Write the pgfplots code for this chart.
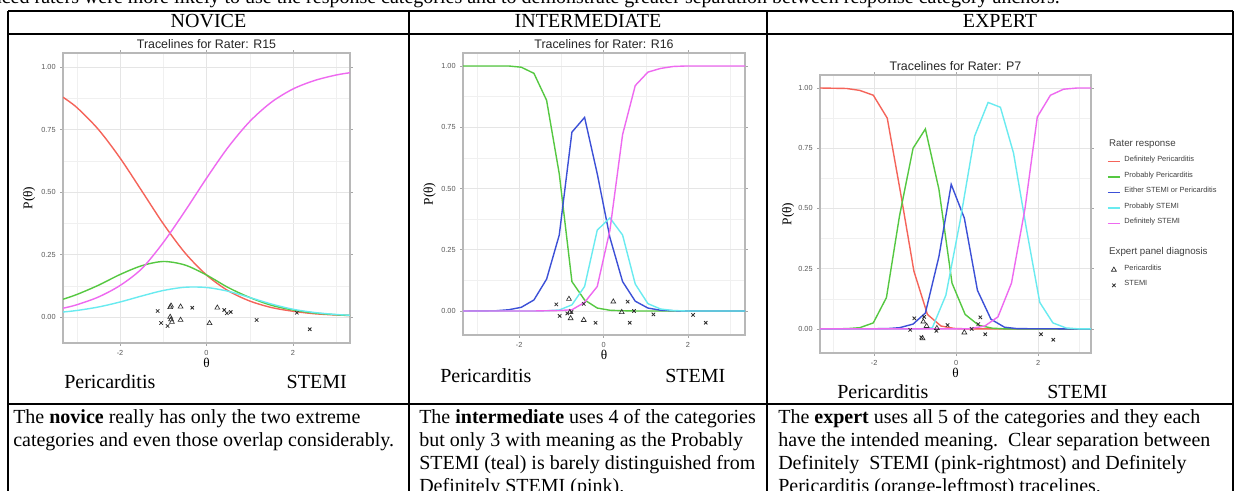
\documentclass[border=0pt]{standalone}
\usepackage{pgfplots}
\pgfplotsset{compat=1.18}
\usepackage{fontspec}
\setmainfont{Liberation Serif}
\newfontfamily\plotfont{Liberation Sans}

\definecolor{cRed}{RGB}{245,100,90}
\definecolor{cGreen}{RGB}{85,200,65}
\definecolor{cBlue}{RGB}{60,80,215}
\definecolor{cCyan}{RGB}{105,235,240}
\definecolor{cPink}{RGB}{238,105,240}
\definecolor{ptgray}{RGB}{45,45,45}

% novice rater R15 (smooth tracelines)
\pgfplotstableread{
theta red   green cyan  pink
-3.32 0.879 0.071 0.020 0.035
-3.0  0.838 0.090 0.026 0.049
-2.5  0.750 0.127 0.040 0.080
-2.0  0.636 0.170 0.060 0.126
-1.5  0.505 0.205 0.084 0.193
-1.0  0.373 0.222 0.106 0.298
-0.5  0.257 0.208 0.119 0.423
0.0   0.168 0.168 0.118 0.555
0.5   0.105 0.118 0.103 0.679
1.0   0.064 0.078 0.078 0.782
1.5   0.038 0.047 0.052 0.859
2.0   0.023 0.028 0.031 0.912
2.5   0.013 0.016 0.018 0.946
3.0   0.008 0.009 0.010 0.968
3.32  0.006 0.006 0.007 0.977
}\novice

% intermediate rater R16
\pgfplotstableread{
theta green blue  cyan  pink
-3.33 1.000 0.000 0.000 0.000
-2.55 1.000 0.001 0.000 0.000
-2.25 1.000 0.005 0.000 0.000
-1.95 0.995 0.015 0.000 0.000
-1.65 0.970 0.045 0.000 0.000
-1.35 0.860 0.130 0.001 0.001
-1.05 0.560 0.310 0.004 0.002
-0.75 0.120 0.730 0.025 0.005
-0.45 0.045 0.790 0.100 0.035
-0.15 0.012 0.560 0.330 0.100
0.15  0.003 0.300 0.380 0.330
0.45  0.001 0.120 0.310 0.720
0.75  0.000 0.040 0.110 0.920
1.05  0.000 0.012 0.030 0.975
1.35  0.000 0.003 0.008 0.990
1.65  0.000 0.001 0.002 0.998
1.95  0.000 0.000 0.000 1.000
3.35  0.000 0.000 0.000 1.000
}\intermediate

\pgfplotsset{
  trace/.style={
    scale only axis, anchor=north west,
    xtick={-2,0,2}, xticklabels={-2,0,2},
    ytick={0,0.25,0.5,0.75,1}, yticklabels={0.00,0.25,0.50,0.75,1.00},
    minor xtick={-3,-1,1,3}, minor ytick={0.125,0.375,0.625,0.875},
    grid=both,
    major grid style={black!10, line width=0.5pt},
    minor grid style={black!6, line width=0.3pt},
    axis line style={black!28, line width=0.9pt},
    tick align=outside, major tick length=2pt, minor tick length=0pt,
    every tick/.style={black!35, line width=0.5pt},
    tick label style={font=\plotfont\fontsize{5.5}{6}\selectfont, text=black!65},
    xlabel={θ}, ylabel={P(θ)},
    label style={font=\plotfont\fontsize{7}{8}\selectfont, text=black!75},
    every axis x label/.style={at={(axis description cs:0.5,-0.07)}, anchor=center},
    every axis y label/.style={at={(axis description cs:-0.118,0.5)}, anchor=center, rotate=90},
    every axis title/.style={at={(axis description cs:0.5,1.032)}, anchor=center,
      font=\plotfont\fontsize{9.3}{10}\selectfont, text=black!85},
  },
  curve/.style={line width=1.05pt, no marks},
  tri/.style={only marks, mark=triangle, mark size=2.1pt, mark options={ptgray, line width=0.5pt}},
  crs/.style={only marks, mark=x, mark size=1.8pt, mark options={ptgray, line width=0.6pt}},
  markleg/.style={legend image code/.code={\draw[##1] plot coordinates {(4.5pt,0pt)};}},
}

\begin{document}
\begin{tikzpicture}
\path[use as bounding box] (0pt,0pt) rectangle (927.75pt,-368.25pt);
\clip (0pt,0pt) rectangle (927.75pt,-368.25pt);
\fill[white] (0pt,0pt) rectangle (927.75pt,-368.25pt);

% NOVICE
\begin{axis}[trace, at={(47.25pt,-39.75pt)}, width=215.25pt, height=217.5pt,
  xmin=-3.32, xmax=3.32, ymin=-0.104, ymax=1.056,
  title={Tracelines for Rater: R15}]
\addplot[curve, cRed, smooth] table[x=theta, y=red] {\novice};
\addplot[curve, cGreen, smooth] table[x=theta, y=green] {\novice};
\addplot[curve, cCyan, smooth] table[x=theta, y=cyan] {\novice};
\addplot[curve, cPink, smooth] table[x=theta, y=pink] {\novice};
\addplot[tri] coordinates {(-0.84,0.039) (-0.82,0.045) (-0.84,0.0) (-0.82,-0.01)
  (-0.80,-0.02) (-0.60,0.041) (-0.60,-0.012) (0.07,-0.025) (0.25,0.037)};
\addplot[crs] coordinates {(-1.13,0.024) (-1.05,-0.024) (-0.90,-0.036) (-0.33,0.037)
  (0.41,0.028) (0.47,0.015) (0.56,0.02) (1.16,-0.012) (2.09,0.017) (2.39,-0.049)};
\end{axis}

% INTERMEDIATE
\begin{axis}[trace, at={(347.25pt,-39.75pt)}, width=211.5pt, height=211.5pt,
  xmin=-3.33, xmax=3.35, ymin=-0.098, ymax=1.053,
  title={Tracelines for Rater: R16}]
\addplot[curve, cGreen] table[x=theta, y=green] {\intermediate};
\addplot[curve, cBlue] table[x=theta, y=blue] {\intermediate};
\addplot[curve, cCyan] table[x=theta, y=cyan] {\intermediate};
\addplot[curve, cPink] table[x=theta, y=pink] {\intermediate};
\addplot[tri] coordinates {(-0.82,0.049) (-0.80,-0.005) (-0.78,-0.03) (-0.47,-0.037)
  (0.23,0.038) (0.43,-0.005)};
\addplot[crs] coordinates {(-1.12,0.027) (-1.04,-0.02) (-0.86,-0.01) (-0.76,-0.004)
  (-0.47,0.029) (-0.19,-0.048) (0.57,0.038) (0.62,-0.048) (0.72,0.0) (1.18,-0.014)
  (2.12,-0.016) (2.42,-0.048)};
\end{axis}

% EXPERT
\begin{axis}[trace, at={(615pt,-56.25pt)}, width=203.25pt, height=208.5pt,
  xmin=-3.32, xmax=3.29, ymin=-0.10, ymax=1.054,
  title={Tracelines for Rater: P7},
  legend cell align=left,
  legend image code/.code={\draw[#1] (0pt,0pt) -- (9pt,0pt);},
  legend style={at={(axis description cs:1.059,0.773)}, anchor=north west,
    draw=none, fill=none, inner sep=0pt, row sep=0pt,
    font=\plotfont\fontsize{5.6}{6}\selectfont, text=black!75,
    nodes={inner sep=0pt, text height=6pt, text depth=5.6pt},
    /tikz/every odd column/.append style={column sep=3pt}}]
\addplot[curve, cRed, forget plot] coordinates {(-3.32,1.0) (-2.67,0.998) (-2.35,0.99)
  (-2.02,0.97) (-1.68,0.875) (-1.35,0.56) (-1.03,0.24) (-0.70,0.06) (-0.37,0.012)
  (-0.05,0.002) (0.3,0) (3.29,0)};
\addplot[curve, cGreen, forget plot] coordinates {(-3.32,0) (-2.67,0.001) (-2.35,0.005)
  (-2.02,0.025) (-1.70,0.13) (-1.38,0.47) (-1.05,0.75) (-0.75,0.83) (-0.42,0.58)
  (-0.10,0.19) (0.22,0.06) (0.55,0.015) (0.88,0.003) (1.2,0) (3.29,0)};
\addplot[curve, cBlue, forget plot] coordinates {(-3.32,0) (-1.7,0.001) (-1.38,0.005)
  (-1.05,0.02) (-0.75,0.066) (-0.42,0.30) (-0.12,0.60) (0.20,0.46) (0.52,0.16)
  (0.85,0.04) (1.18,0.007) (1.5,0.001) (3.29,0)};
\addplot[curve, cCyan, forget plot] coordinates {(-3.32,0) (-0.9,0) (-0.58,0.005)
  (-0.25,0.14) (0.10,0.45) (0.45,0.80) (0.78,0.94) (1.08,0.92) (1.40,0.73) (1.72,0.41)
  (2.04,0.11) (2.36,0.025) (2.68,0.004) (3.0,0) (3.29,0)};
\addplot[curve, cPink, forget plot] coordinates {(-3.32,0) (0.3,0) (0.7,0.012) (1.02,0.05)
  (1.35,0.19) (1.68,0.50) (1.98,0.88) (2.3,0.97) (2.62,0.995) (2.95,1) (3.29,1)};
\addplot[tri, forget plot] coordinates {(-0.80,0.03) (-0.82,-0.039) (-0.72,0.012)
  (-0.47,0.003) (0.20,-0.015)};
\addplot[crs, forget plot] coordinates {(-1.02,0.044) (-1.12,-0.004) (-0.78,0.05)
  (-0.85,-0.035) (-0.48,-0.008) (-0.21,0.016) (0.38,0.0) (0.54,0.02) (0.59,0.048)
  (0.71,-0.022) (2.07,-0.022) (2.37,-0.045)};
\addlegendimage{empty legend}
\addlegendentry{\makebox[0pt][l]{\hspace*{-12pt}\fontsize{7.3}{8}\selectfont Rater response}}
\addlegendimage{cRed, line width=0.9pt}\addlegendentry{Definitely Pericarditis}
\addlegendimage{cGreen, line width=0.9pt}\addlegendentry{Probably Pericarditis}
\addlegendimage{cBlue, line width=0.9pt}\addlegendentry{Either STEMI or Pericarditis}
\addlegendimage{cCyan, line width=0.9pt}\addlegendentry{Probably STEMI}
\addlegendimage{cPink, line width=0.9pt}\addlegendentry{Definitely STEMI}
\addlegendimage{empty legend}\addlegendentry{}
\addlegendimage{empty legend}
\addlegendentry{\makebox[0pt][l]{\hspace*{-12pt}\fontsize{7.3}{8}\selectfont Expert panel diagnosis}}
\addlegendimage{tri, markleg}\addlegendentry{Pericarditis}
\addlegendimage{crs, markleg}\addlegendentry{STEMI}
\end{axis}

% table and text, in pixel units
\begin{scope}[x=0.75pt, y=-0.75pt]
\node[anchor=base east, inner sep=0pt, font=\fontsize{15}{17}\selectfont] at (1060,4)
  {the experienced raters were more likely to use the response categories and to demonstrate greater separation between response category anchors.};
\draw[line width=0.9pt] (8,11) -- (1233,11) (8,34) -- (1233,34) (8,404) -- (1233,404);
\draw[line width=0.9pt] (8,11) -- (8,495) (409,11) -- (409,495) (767,11) -- (767,495) (1233,11) -- (1233,495);
\begin{scope}[every node/.style={inner sep=0pt, font=\fontsize{15}{17}\selectfont}]
\node[anchor=base] at (208.5,28) {NOVICE};
\node[anchor=base] at (588,28) {INTERMEDIATE};
\node[anchor=base] at (1000,28) {EXPERT};
\node[anchor=base west] at (64,388) {Pericarditis};
\node[anchor=base east] at (347,388) {STEMI};
\node[anchor=base west] at (440,382) {Pericarditis};
\node[anchor=base west] at (665,382) {STEMI};
\node[anchor=base west] at (837,398) {Pericarditis};
\node[anchor=base west] at (1047,398) {STEMI};
\node[anchor=base west] at (13,423) {The \textbf{novice} really has only the two extreme};
\node[anchor=base west] at (13,446) {categories and even those overlap considerably.};
\node[anchor=base west] at (419,423) {The \textbf{intermediate} uses 4 of the categories};
\node[anchor=base west] at (419,446) {but only 3 with meaning as the Probably};
\node[anchor=base west] at (419,469) {STEMI (teal) is barely distinguished from};
\node[anchor=base west] at (419,492) {Definitely STEMI (pink).};
\node[anchor=base west] at (778,423) {The \textbf{expert} uses all 5 of the categories and they each};
\node[anchor=base west] at (778,446) {have the intended meaning.\ \ Clear separation between};
\node[anchor=base west] at (778,469) {Definitely\ \ STEMI (pink-rightmost) and Definitely};
\node[anchor=base west] at (778,492) {Pericarditis (orange-leftmost) tracelines.};
\end{scope}
\end{scope}
\end{tikzpicture}
\end{document}
